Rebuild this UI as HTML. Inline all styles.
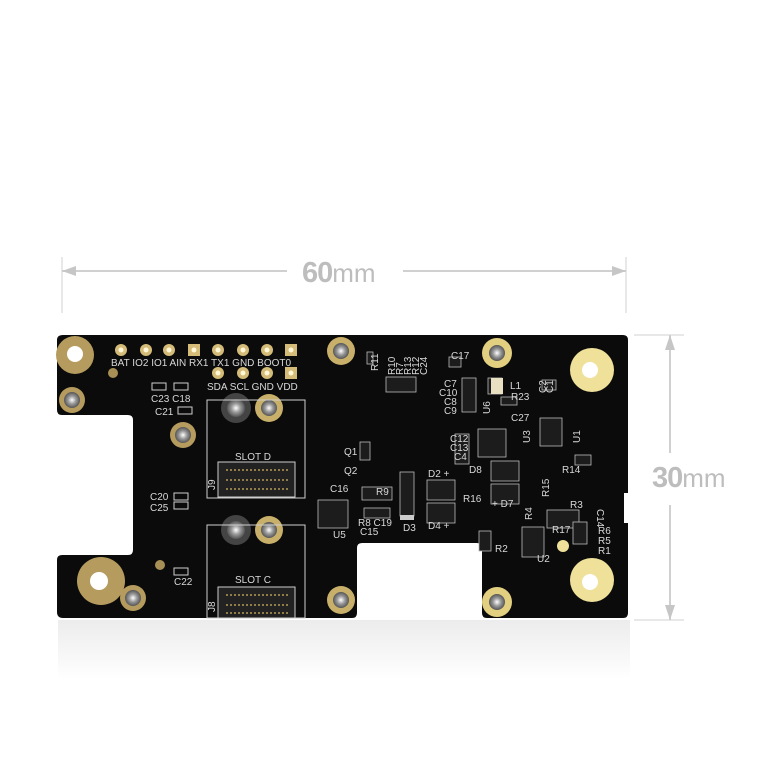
<!DOCTYPE html>
<html><head><meta charset="utf-8"><style>
html,body{margin:0;padding:0;background:#fff;}
svg{display:block;}
.s{font-family:"Liberation Sans",sans-serif;fill:#d8d8d8;font-size:10px;font-stretch:condensed;}
.r{fill:none;stroke:#cfcfcf;stroke-width:1;}
</style></head><body>
<svg width="757" height="757" viewBox="0 0 757 757" xmlns="http://www.w3.org/2000/svg">
<defs>
<linearGradient id="refl" x1="0" y1="0" x2="0" y2="1">
<stop offset="0" stop-color="#e4e4e4"/><stop offset="1" stop-color="#fff"/>
</linearGradient>
<radialGradient id="silver"><stop offset="0" stop-color="#fff"/><stop offset="0.5" stop-color="#999"/><stop offset="1" stop-color="#555"/></radialGradient>
</defs>
<rect x="58" y="620" width="572" height="60" fill="url(#refl)" opacity="0.7"/>
<g stroke="#d0d0d0" stroke-width="1">
<line x1="62" y1="257" x2="62" y2="313"/><line x1="626" y1="257" x2="626" y2="313"/>
<line x1="62" y1="271" x2="287" y2="271" stroke-width="2"/><line x1="403" y1="271" x2="626" y2="271" stroke-width="2"/>
<line x1="634" y1="335" x2="684" y2="335"/><line x1="634" y1="620" x2="684" y2="620"/>
<line x1="670" y1="335" x2="670" y2="453" stroke-width="2"/><line x1="670" y1="505" x2="670" y2="620" stroke-width="2"/>
</g>
<g fill="#c6c6c6">
<polygon points="62,271 76,266 76,276"/><polygon points="626,271 612,266 612,276"/>
<polygon points="670,335 665,350 675,350"/><polygon points="670,620 665,605 675,605"/>
</g>
<text x="302" y="282" font-family="Liberation Sans,sans-serif" font-size="29" fill="#bdbdbd"><tspan font-weight="bold" letter-spacing="-1">60</tspan><tspan font-size="26">mm</tspan></text>
<text x="652" y="487" font-family="Liberation Sans,sans-serif" font-size="29" fill="#bdbdbd"><tspan font-weight="bold" letter-spacing="-1">30</tspan><tspan font-size="26">mm</tspan></text>
<path d="M63,335 H623 Q628,335 628,340 V493 H624 V523 H628 V613 Q628,618 623,618 H487 Q482,618 482,613 V548 Q482,543 477,543 H362 Q357,543 357,548 V613 Q357,618 352,618 H63 Q57,618 57,612 V560 Q57,555 62,555 H128 Q133,555 133,550 V420 Q133,415 128,415 H62 Q57,415 57,410 V340 Q57,335 63,335 Z" fill="#0b0b0b"/>
<circle cx="75" cy="355" r="19" fill="#b59c5e"/><circle cx="75" cy="354" r="8" fill="#fff"/>
<circle cx="113" cy="373" r="5" fill="#a88f55"/>
<circle cx="101" cy="581" r="24" fill="#b59c5e"/><circle cx="99" cy="581" r="9" fill="#fff"/>
<circle cx="160" cy="565" r="5" fill="#a88f55"/>
<circle cx="592" cy="370" r="22" fill="#efe19a"/><circle cx="590" cy="370" r="8" fill="#fff"/>
<circle cx="592" cy="580" r="22" fill="#efe19a"/><circle cx="590" cy="582" r="8" fill="#fff"/>
<circle cx="563" cy="546" r="6" fill="#efe19a"/>
<g>
<circle cx="72" cy="400" r="13" fill="#b59c5e"/><circle cx="72" cy="400" r="8" fill="url(#silver)"/>
<circle cx="183" cy="435" r="13" fill="#b59c5e"/><circle cx="183" cy="435" r="8" fill="url(#silver)"/>
<circle cx="133" cy="598" r="13" fill="#b59c5e"/><circle cx="133" cy="598" r="8" fill="url(#silver)"/>
<circle cx="341" cy="351" r="14" fill="#c9b06a"/><circle cx="341" cy="351" r="8" fill="url(#silver)"/>
<circle cx="341" cy="600" r="14" fill="#c9b06a"/><circle cx="341" cy="600" r="8" fill="url(#silver)"/>
<circle cx="497" cy="353" r="15" fill="#e3cf80"/><circle cx="497" cy="353" r="8" fill="url(#silver)"/>
<circle cx="497" cy="602" r="15" fill="#e3cf80"/><circle cx="497" cy="602" r="8" fill="url(#silver)"/>
<circle cx="236" cy="408" r="15" fill="#444"/><circle cx="236" cy="408" r="9" fill="url(#silver)"/>
<circle cx="269" cy="408" r="14" fill="#c9b06a"/><circle cx="269" cy="408" r="8" fill="url(#silver)"/>
<circle cx="236" cy="530" r="15" fill="#444"/><circle cx="236" cy="530" r="9" fill="url(#silver)"/>
<circle cx="269" cy="530" r="14" fill="#c9b06a"/><circle cx="269" cy="530" r="8" fill="url(#silver)"/>
</g>
<g fill="#d4bc78">
<circle cx="121" cy="350" r="6"/><circle cx="146" cy="350" r="6"/><circle cx="169" cy="350" r="6"/><rect x="188" y="344" width="12" height="12"/>
<circle cx="218" cy="350" r="6"/><circle cx="243" cy="350" r="6"/><circle cx="267" cy="350" r="6"/><rect x="285" y="344" width="12" height="12"/>
<circle cx="218" cy="373" r="6"/><circle cx="243" cy="373" r="6"/><circle cx="267" cy="373" r="6"/><rect x="285" y="367" width="12" height="12"/>
</g>
<g fill="#fff7d8"><circle cx="121" cy="350" r="2.5"/><circle cx="146" cy="350" r="2.5"/><circle cx="169" cy="350" r="2.5"/><circle cx="194" cy="350" r="2.5"/><circle cx="218" cy="350" r="2.5"/><circle cx="243" cy="350" r="2.5"/><circle cx="267" cy="350" r="2.5"/><circle cx="291" cy="350" r="2.5"/><circle cx="218" cy="373" r="2.5"/><circle cx="243" cy="373" r="2.5"/><circle cx="267" cy="373" r="2.5"/><circle cx="291" cy="373" r="2.5"/></g>
<text class="s" x="111" y="366">BAT IO2  IO1 AIN RX1 TX1 GND BOOT0</text>
<text class="s" x="207" y="390">SDA SCL GND VDD</text>
<rect class="r" x="207" y="400" width="98" height="98"/>
<rect class="r" x="207" y="525" width="98" height="93"/>
<rect x="218" y="462" width="77" height="35" fill="#222" stroke="#ccc" stroke-width="1"/>
<rect x="218" y="587" width="77" height="31" fill="#222" stroke="#ccc" stroke-width="1"/>
<g stroke="#b39a55" stroke-width="1.5" stroke-dasharray="2 2"><line x1="226" y1="470" x2="288" y2="470"/><line x1="226" y1="480" x2="288" y2="480"/><line x1="226" y1="489" x2="288" y2="489"/><line x1="226" y1="595" x2="288" y2="595"/><line x1="226" y1="605" x2="288" y2="605"/><line x1="226" y1="613" x2="288" y2="613"/></g>
<text class="s" x="235" y="460">SLOT  D</text><text class="s" x="235" y="583">SLOT  C</text>
<text class="s" x="215" y="490" transform="rotate(-90 215 490)">J9</text>
<text class="s" x="215" y="612" transform="rotate(-90 215 612)">J8</text>
<g class="r"><rect x="152" y="383" width="14" height="7"/><rect x="174" y="383" width="14" height="7"/><rect x="178" y="407" width="14" height="7"/><rect x="174" y="493" width="14" height="7"/><rect x="174" y="502" width="14" height="7"/><rect x="174" y="568" width="14" height="7"/></g>
<text class="s" x="151" y="402">C23 C18</text><text class="s" x="155" y="415">C21</text>
<text class="s" x="150" y="500">C20</text><text class="s" x="150" y="511">C25</text><text class="s" x="174" y="585">C22</text>
<g fill="#1c1c1c" stroke="#bbb" stroke-width="0.8">
<rect x="318" y="500" width="30" height="28"/><rect x="400" y="472" width="14" height="44"/>
<rect x="427" y="480" width="28" height="20"/><rect x="427" y="503" width="28" height="20"/>
<rect x="491" y="461" width="28" height="20"/><rect x="491" y="484" width="28" height="20"/>
<rect x="478" y="429" width="28" height="28"/><rect x="540" y="418" width="22" height="28"/>
<rect x="522" y="527" width="22" height="30"/><rect x="547" y="510" width="32" height="18"/>
<rect x="360" y="442" width="10" height="18"/><rect x="367" y="352" width="6" height="12"/>
<rect x="386" y="377" width="30" height="15"/><rect x="449" y="357" width="12" height="10"/>
<rect x="462" y="378" width="14" height="34"/><rect x="488" y="378" width="14" height="16"/>
<rect x="455" y="434" width="14" height="30"/><rect x="501" y="397" width="16" height="8"/>
<rect x="542" y="380" width="14" height="10"/><rect x="575" y="455" width="16" height="10"/>
<rect x="362" y="487" width="30" height="13"/><rect x="364" y="508" width="26" height="10"/>
<rect x="573" y="522" width="14" height="22"/><rect x="479" y="531" width="12" height="20"/>
</g>
<rect x="400" y="515" width="14" height="5" fill="#ccc"/>
<rect x="491" y="378" width="12" height="16" fill="#e8e0c0"/>
<g class="s" font-size="9">
<text x="378" y="371" transform="rotate(-90 378 371)">R11</text>
<text x="395" y="375" transform="rotate(-90 395 375)">R10</text>
<text x="403" y="375" transform="rotate(-90 403 375)">R7</text>
<text x="411" y="375" transform="rotate(-90 411 375)">R13</text>
<text x="419" y="375" transform="rotate(-90 419 375)">R12</text>
<text x="427" y="375" transform="rotate(-90 427 375)">C24</text>
<text x="451" y="359">C17</text><text x="444" y="387">C7</text><text x="439" y="396">C10</text><text x="444" y="405">C8</text><text x="444" y="414">C9</text>
<text x="510" y="389">L1</text><text x="511" y="400">R23</text><text x="511" y="421">C27</text>
<text x="490" y="414" transform="rotate(-90 490 414)">U6</text>
<text x="450" y="442">C12</text><text x="450" y="451">C13</text><text x="454" y="460">C4</text>
<text x="530" y="443" transform="rotate(-90 530 443)">U3</text><text x="580" y="443" transform="rotate(-90 580 443)">U1</text>
<text x="546" y="393" transform="rotate(-90 546 393)">C2</text><text x="553" y="393" transform="rotate(-90 553 393)">C1</text>
<text x="469" y="473">D8</text><text x="428" y="477">D2 +</text><text x="428" y="529">D4 +</text>
<text x="463" y="502">R16</text><text x="492" y="507">+ D7</text><text x="562" y="473">R14</text>
<text x="549" y="497" transform="rotate(-90 549 497)">R15</text><text x="570" y="508">R3</text>
<text x="603" y="503" transform="rotate(90 597 503)">C14</text>
<text x="532" y="520" transform="rotate(-90 532 520)">R4</text>
<text x="552" y="533">R17</text><text x="598" y="534">R6</text><text x="598" y="544">R5</text><text x="598" y="554">R1</text>
<text x="495" y="552">R2</text><text x="537" y="562">U2</text>
<text x="403" y="531">D3</text><text x="333" y="538">U5</text>
<text x="344" y="455">Q1</text><text x="344" y="474">Q2</text>
<text x="330" y="492">C16</text><text x="376" y="495">R9</text><text x="358" y="526">R8 C19</text><text x="360" y="535">C15</text>
</g>
</svg>
</body></html>
